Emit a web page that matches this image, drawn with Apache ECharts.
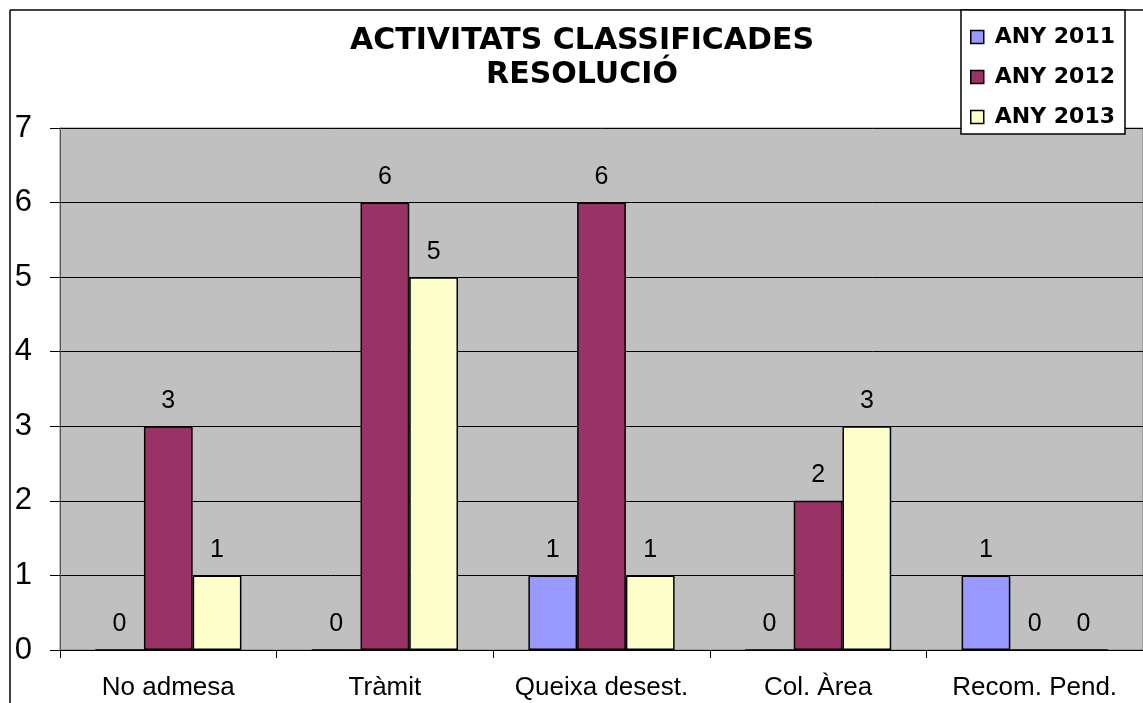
<!DOCTYPE html>
<html>
<head>
<meta charset="utf-8">
<script src="https://cdn.jsdelivr.net/npm/echarts@6/dist/echarts.min.js"></script>
<style>
  html, body { margin: 0; padding: 0; background: #fff; }
  #chart { width: 1143px; height: 703px; }
</style>
</head>
<body>
<div id="chart"></div>
<script>
// categories and values
var categories = ['No admesa', 'Tràmit', 'Queixa desest.', 'Col. Àrea', 'Recom. Pend.'];
var seriesNames = ['ANY 2011', 'ANY 2012', 'ANY 2013'];
var any2011 = [0, 0, 1, 0, 1];
var any2012 = [3, 6, 6, 2, 0];
var any2013 = [1, 5, 1, 3, 0];
var colors = ['#9999FF', '#993366', '#FFFFCC'];

var chart = echarts.init(document.getElementById('chart'));

function barSeries(name, data, color) {
    return {
        name: name,
        type: 'bar',
        data: data,
        barGap: '0%',
        barCategoryGap: '32.5%',
        itemStyle: { color: color, borderColor: '#000', borderWidth: 1.5 },
        label: {
            show: true,
            position: 'top',
            distance: 13,
            color: '#000',
            fontFamily: 'Liberation Sans',
            fontSize: 25
        },
        emphasis: { disabled: true },
        animation: false
    };
}

var option = {
    animation: false,
    backgroundColor: '#fff',
    title: {
        text: 'ACTIVITATS CLASSIFICADES\nRESOLUCIÓ',
        left: 577,
        top: 19,
        textAlign: 'center',
        textStyle: {
            fontFamily: 'DejaVu Sans',
            fontWeight: 'bold',
            fontSize: 30,
            lineHeight: 34,
            color: '#000'
        }
    },
    legend: {
        orient: 'vertical',
        right: 18,
        top: 10,
        itemWidth: 13,
        itemHeight: 13,
        itemGap: 18,
        padding: [16, 10, 6, 9],
        backgroundColor: '#fff',
        borderColor: '#000',
        borderWidth: 1.5,
        icon: 'rect',
        data: seriesNames,
        itemStyle: { borderColor: '#000', borderWidth: 1.5 },
        textStyle: {
            fontFamily: 'DejaVu Sans',
            fontWeight: 'bold',
            fontSize: 22,
            color: '#000',
            padding: [0, 0, 0, 6]
        },
        selectedMode: false
    },
    grid: {
        left: 60,
        right: -2,
        top: 128,
        bottom: 53,
        show: true,
        backgroundColor: '#C0C0C0',
        borderColor: '#808080',
        borderWidth: 1
    },
    xAxis: {
        type: 'category',
        data: categories,
        axisLine: { show: true, lineStyle: { color: '#000', width: 1 } },
        axisTick: { show: true, interval: 0, length: 8, lineStyle: { color: '#000' } },
        axisLabel: {
            interval: 0,
            color: '#000',
            fontFamily: 'Liberation Sans',
            fontSize: 26,
            margin: 25
        }
    },
    yAxis: {
        type: 'value',
        min: 0,
        max: 7,
        interval: 1,
        axisLine: { show: true, lineStyle: { color: '#555', width: 1 } },
        axisTick: { show: true, length: 10, lineStyle: { color: '#000' } },
        axisLabel: {
            color: '#000',
            fontFamily: 'Liberation Sans',
            fontSize: 31,
            margin: 28
        },
        splitLine: { show: true, lineStyle: { color: '#000', width: 1 } }
    },
    graphic: [
        { type: 'line', shape: { x1: 10, y1: 10, x2: 1143, y2: 10 }, style: { stroke: '#000', lineWidth: 1.5 }, z: 0 },
        { type: 'line', shape: { x1: 10, y1: 10, x2: 10, y2: 703 }, style: { stroke: '#000', lineWidth: 1.5 }, z: 0 }
    ],
    series: [
        barSeries(seriesNames[0], any2011, colors[0]),
        barSeries(seriesNames[1], any2012, colors[1]),
        barSeries(seriesNames[2], any2013, colors[2])
    ]
};

chart.setOption(option);
</script>
</body>
</html>
